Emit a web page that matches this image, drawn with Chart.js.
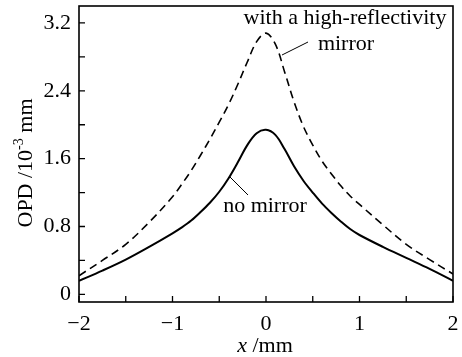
<!DOCTYPE html>
<html>
<head>
<meta charset="utf-8">
<script src="https://cdn.jsdelivr.net/npm/chart.js@4"></script>
<style>
  body { margin: 0; background: #fff; }
  #wrap { width: 462px; height: 357px; }
</style>
</head>
<body>
<div id="wrap"><canvas id="chart" width="462" height="357"></canvas></div>
<script>
// data
var xValues = [-2, -1.75, -1.5, -1.25, -1, -0.9, -0.8, -0.7, -0.6, -0.5, -0.4, -0.3, -0.2, -0.1, 0,
               0.1, 0.2, 0.3, 0.4, 0.5, 0.6, 0.7, 0.8, 0.9, 1, 1.25, 1.5, 1.75, 2];
var noMirror = [0.16, 0.28, 0.41, 0.56, 0.72, 0.79, 0.87, 0.97, 1.08, 1.21, 1.37, 1.56, 1.76, 1.90, 1.94,
                1.88, 1.71, 1.51, 1.34, 1.20, 1.07, 0.96, 0.86, 0.77, 0.70, 0.56, 0.43, 0.30, 0.16];
var withMirror = [0.22, 0.40, 0.59, 0.85, 1.15, 1.30, 1.46, 1.64, 1.83, 2.03, 2.24, 2.48, 2.74, 2.98, 3.08,
                  2.95, 2.62, 2.27, 1.98, 1.76, 1.57, 1.42, 1.28, 1.16, 1.06, 0.82, 0.59, 0.41, 0.24];

var xTicks = [-2, -1, 0, 1, 2];
var xMinorTicks = [-1.5, -0.5, 0.5, 1.5];
var yTicks = [0, 0.8, 1.6, 2.4, 3.2];
var yMinorTicks = [0.4, 1.2, 2.0, 2.8];

var serif = '"Liberation Serif", "Times New Roman", serif';

function toPoints(ys) {
  return xValues.map(function (x, i) { return { x: x, y: ys[i] }; });
}

function fmt(v) {
  var s = (Math.round(v * 10) / 10).toString();
  return s.replace('-', '\u2212');
}

// frame, inward ticks, axis titles and curve labels
var decor = {
  id: 'decor',
  afterDraw: function (chart) {
    var ctx = chart.ctx;
    var a = chart.chartArea;
    var xs = chart.scales.x, ys = chart.scales.y;
    ctx.save();
    ctx.strokeStyle = '#000';
    ctx.lineWidth = 1.6;
    ctx.strokeRect(a.left, a.top, a.right - a.left, a.bottom - a.top);

    ctx.lineWidth = 1.3;
    ctx.beginPath();
    xTicks.concat(xMinorTicks).forEach(function (v) {
      var px = xs.getPixelForValue(v);
      ctx.moveTo(px, a.bottom);
      ctx.lineTo(px, a.bottom - 6);
    });
    yTicks.concat(yMinorTicks).forEach(function (v) {
      var py = ys.getPixelForValue(v);
      ctx.moveTo(a.left, py);
      ctx.lineTo(a.left + 6, py);
    });
    ctx.stroke();

    ctx.fillStyle = '#000';
    ctx.textBaseline = 'alphabetic';

    // x title
    ctx.font = 'italic 22px ' + serif;
    var w1 = ctx.measureText('x').width;
    ctx.font = '22px ' + serif;
    var w2 = ctx.measureText(' /mm').width;
    var cx = (a.left + a.right) / 2 - 1;
    var sx = cx - (w1 + w2) / 2;
    ctx.font = 'italic 22px ' + serif;
    ctx.textAlign = 'left';
    ctx.fillText('x', sx, 352);
    ctx.font = '22px ' + serif;
    ctx.fillText(' /mm', sx + w1, 352);

    // y title
    ctx.save();
    ctx.translate(32, 163);
    ctx.rotate(-Math.PI / 2);
    ctx.font = '22px ' + serif;
    var p1 = 'OPD /10', p3 = ' mm';
    var t1 = ctx.measureText(p1).width;
    var t3 = ctx.measureText(p3).width;
    ctx.font = '14px ' + serif;
    var t2 = ctx.measureText('-3').width;
    var start = -(t1 + t2 + t3) / 2;
    ctx.font = '22px ' + serif;
    ctx.fillText(p1, start, 0);
    ctx.font = '14px ' + serif;
    ctx.fillText('-3', start + t1, -9);
    ctx.font = '22px ' + serif;
    ctx.fillText(p3, start + t1 + t2, 0);
    ctx.restore();

    // curve labels
    ctx.font = '22px ' + serif;
    ctx.textAlign = 'center';
    ctx.fillText('with a high-reflectivity', 345, 24);
    ctx.fillText('mirror', 346, 50);
    ctx.fillText('no mirror', 265, 212);

    ctx.lineWidth = 1;
    ctx.beginPath();
    ctx.moveTo(308, 42);
    ctx.lineTo(282, 55);
    ctx.moveTo(230, 177);
    ctx.lineTo(248, 195);
    ctx.stroke();
    ctx.restore();
  }
};

new Chart(document.getElementById('chart'), {
  type: 'line',
  data: {
    datasets: [{
      label: 'no mirror',
      data: toPoints(noMirror),
      borderColor: '#000',
      borderWidth: 2,
      pointRadius: 0,
      tension: 0.35,
      fill: false
    }, {
      label: 'with a high-reflectivity mirror',
      data: toPoints(withMirror),
      borderColor: '#000',
      borderWidth: 1.6,
      borderDash: [8, 5],
      pointRadius: 0,
      tension: 0.35,
      fill: false
    }]
  },
  plugins: [decor],
  options: {
    responsive: false,
    animation: false,
    layout: { padding: { top: 6, right: 9, left: 0, bottom: 0 } },
    plugins: { legend: { display: false }, tooltip: { enabled: false } },
    scales: {
      x: {
        type: 'linear',
        min: -2,
        max: 2,
        afterBuildTicks: function (scale) {
          scale.ticks = xTicks.map(function (v) { return { value: v }; });
        },
        afterFit: function (scale) {
          scale.height = 55;
          scale.paddingLeft = 0;
          scale.paddingRight = 0;
        },
        grid: { display: false, drawTicks: false },
        border: { display: false },
        ticks: {
          padding: 9,
          color: '#000',
          font: { family: serif, size: 22 },
          maxRotation: 0,
          callback: function (v) { return fmt(v); }
        }
      },
      y: {
        type: 'linear',
        min: -0.09,
        max: 3.4,
        afterBuildTicks: function (scale) {
          scale.ticks = yTicks.map(function (v) { return { value: v }; });
        },
        afterFit: function (scale) {
          scale.width = 79;
          scale.paddingTop = 0;
          scale.paddingBottom = 0;
        },
        grid: { display: false, drawTicks: false },
        border: { display: false },
        ticks: {
          padding: 8,
          color: '#000',
          font: { family: serif, size: 22 },
          callback: function (v) { return fmt(v); }
        }
      }
    }
  }
});
</script>
</body>
</html>
